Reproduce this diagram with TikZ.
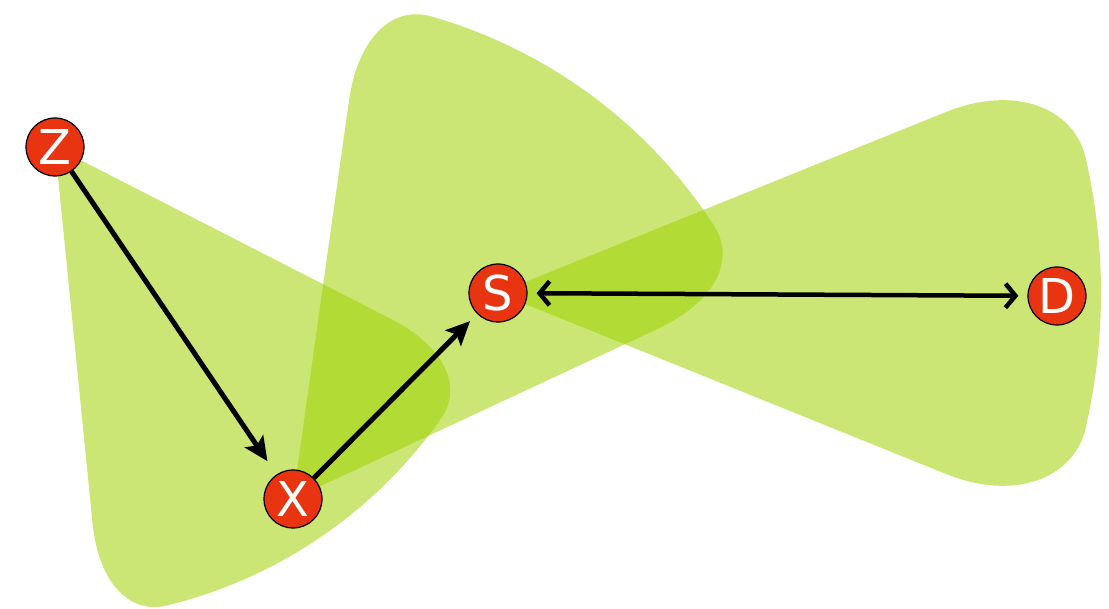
\documentclass[tikz,border=0pt]{standalone}
\usepackage{fontspec}
\setmainfont{DejaVu Sans}
\usetikzlibrary{calc,arrows.meta}
\definecolor{lobegreen}{RGB}{160,210,2}
\definecolor{nodered}{RGB}{232,52,16}
\newcommand\drawlobe[5]{%
 \pgfmathsetmacro\lobeLa{#2-#3}%
 \pgfmathsetmacro\lobeHa{#2+#3}%
 \pgfmathsetmacro\lobeLb{#2-#3+#5}%
 \pgfmathsetmacro\lobeHb{#2+#3-#5}%
 \pgfmathsetmacro\lobeLt{\lobeLb-90}%
 \pgfmathsetmacro\lobeHt{\lobeHb+90}%
 \fill[lobe] (#1) -- ($(#1)+(\lobeLa:{0.8*#4})$)
   .. controls ($(#1)+(\lobeLa:{0.93*#4})$) and ($(#1)+(\lobeLb:#4)+(\lobeLt:{0.08*#4})$)
   .. ($(#1)+(\lobeLb:#4)$)
   arc[start angle=\lobeLb, end angle=\lobeHb, radius=#4]
   .. controls ($(#1)+(\lobeHb:#4)+(\lobeHt:{0.08*#4})$) and ($(#1)+(\lobeHa:{0.93*#4})$)
   .. ($(#1)+(\lobeHa:{0.8*#4})$) -- cycle;
}
\begin{document}
\begin{tikzpicture}[x=1pt,y=-1pt,
  lobe/.style={fill=lobegreen,fill opacity=0.55},
  station/.style={circle,minimum size=58pt,inner sep=0pt,fill=nodered,draw=black,line width=1.2pt,text=white,font=\fontsize{48}{48}\selectfont},
  arr/.style={line width=5pt,-{Stealth[length=24pt,width=22pt,inset=5pt]}},
  biarr/.style={line width=4.5pt,{Straight Barb[length=10pt,width=24pt]}-{Straight Barb[length=10pt,width=24pt]}}]
\useasboundingbox (0,0) rectangle (1109,609);
\coordinate (zc) at (55,147);
\coordinate (xc) at (293,499);
\coordinate (sc) at (498,293);
\coordinate (dc) at (1057,296);
\drawlobe{zc}{55.7}{28.6}{472}{8}
\drawlobe{xc}{-53.5}{28.5}{502}{8}
\drawlobe{sc}{0}{22}{603}{9}
\node[station] (Z) at (zc) {Z};
\node[station] (X) at (xc) {X};
\node[station] (S) at (sc) {S};
\node[station] (D) at (dc) {D};
\draw[arr,shorten >=16pt] (Z) -- (X);
\draw[arr,shorten >=10pt] (X) -- (S);
\draw[biarr,shorten >=9pt,shorten <=9pt] (S) -- (D);
\end{tikzpicture}
\end{document}
